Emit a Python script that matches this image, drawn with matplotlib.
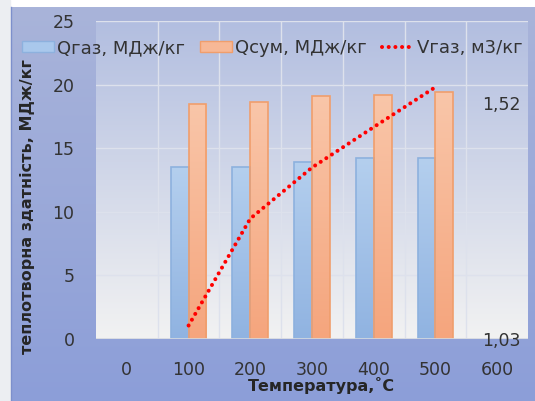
import numpy as np
import matplotlib
matplotlib.use("Agg")
import matplotlib.pyplot as plt
from matplotlib.colors import LinearSegmentedColormap
from matplotlib.lines import Line2D
from matplotlib.patches import Patch, Rectangle

plt.rcParams['font.family'] = ['DejaVu Sans']

temps = ['0', '100', '200', '300', '400', '500', '600']
q_gas = [np.nan, 13.5, 13.5, 13.9, 14.2, 14.2, np.nan]
q_sum = [np.nan, 18.5, 18.6, 19.1, 19.2, 19.4, np.nan]
v_gas = [np.nan, 1.058, 1.28, 1.386, 1.47, 1.553, np.nan]

W, H = 535, 401
fig = plt.figure(figsize=(W / 100, H / 100), dpi=100, facecolor='white')

# chart frame background
bg = fig.add_axes([0, 0, 1, 1], zorder=-10)
bg.axis('off')
bg.add_patch(Rectangle((0, 0), 10, H, color='#eceef2'))
frame_cmap = LinearSegmentedColormap.from_list('frame', ['#a9b4da', '#8c9ed8'])
bg.imshow(np.linspace(0, 1, 256).reshape(-1, 1), cmap=frame_cmap, aspect='auto',
          extent=[10, W, H, 7])
bg.plot([10.5, 10.5], [7, H], color='#7d90cc', lw=1)
bg.set_xlim(0, W)
bg.set_ylim(H, 0)

ax = fig.add_axes([96 / W, 1 - 339 / H, (528 - 96) / W, (339 - 21) / H])
ax.set_facecolor('none')
plot_cmap = LinearSegmentedColormap.from_list('plot', ['#b2bee0', '#f2f2f2'])
ax.imshow(np.linspace(0, 1, 256).reshape(-1, 1), cmap=plot_cmap, aspect='auto',
          extent=[0, 1, 0, 1], transform=ax.transAxes, zorder=0)

x = np.arange(len(temps))
bw = 0.29
blue_cmap = LinearSegmentedColormap.from_list('b', ['#b4cfee', '#90b3e1'])
orange_cmap = LinearSegmentedColormap.from_list('o', ['#f9c6a9', '#f5a57d'])


def gradient_bars(xs, vals, cmap, edge):
    bars = ax.bar(xs, vals, width=bw, facecolor='none', edgecolor=edge,
                  linewidth=1.2, zorder=3)
    for b in bars:
        h = b.get_height()
        if np.isnan(h):
            continue
        x0 = b.get_x()
        im = ax.imshow(np.linspace(0, 1, 128).reshape(-1, 1), cmap=cmap,
                       aspect='auto', extent=[x0, x0 + bw, 0, h], zorder=2)
        im.set_clip_path(b)


gradient_bars(x - bw / 2, q_gas, blue_cmap, '#8db1de')
gradient_bars(x + bw / 2, q_sum, orange_cmap, '#f09e6c')

ax.set_xlim(-0.5, 6.5)
ax.set_ylim(0, 25)
ax.set_xticks(x)
ax.set_xticklabels(temps)
ax.set_yticks([0, 5, 10, 15, 20, 25])
ax.set_xticks(np.arange(0.5, 6.5, 1), minor=True)
ax.grid(True, which='major', axis='y', color='#dde1ec', lw=1, zorder=1)
ax.grid(True, which='minor', axis='x', color='#dde1ec', lw=1, zorder=1)
ax.tick_params(axis='both', which='both', length=0, labelsize=12.5,
               labelcolor='#333333')
ax.tick_params(axis='x', pad=15.5)
ax.tick_params(axis='y', pad=15.5)
for s in ax.spines.values():
    s.set_visible(False)
ax.axhline(0, color='#d6d9e0', lw=1.2, zorder=4)

ax2 = ax.twinx()
ax2.plot(x, v_gas, color='#ff0000', lw=2.9, linestyle=(0, (0.01, 1.65)),
         dash_capstyle='round', zorder=5)
ax2.set_ylim(1.03, 1.03 + 0.49 * 318 / 236)
ax2.set_yticks([1.03, 1.52])
ax2.set_yticklabels(['1,03', '1,52'])
ax2.tick_params(axis='y', length=0, pad=-5, labelsize=12.5, labelcolor='#333333')
for lbl in ax2.get_yticklabels():
    lbl.set_horizontalalignment('right')
for s in ax2.spines.values():
    s.set_visible(False)

handles = [
    Patch(facecolor='#a9c8ec', edgecolor='#8db1de'),
    Patch(facecolor='#f7b896', edgecolor='#f09e6c'),
    Line2D([0], [0], color='#ff0000', lw=2.9, linestyle=(0, (0.01, 1.65)),
           dash_capstyle='round'),
]
fig.legend(handles, ['Qгаз, МДж/кг', 'Qсум, МДж/кг', 'Vгаз, м3/кг'],
           loc='center', bbox_to_anchor=(272 / W, 1 - 48 / H), ncol=3,
           frameon=False, fontsize=13, labelcolor='#333333',
           handlelength=1.77, handleheight=0.6, handletextpad=0.17,
           columnspacing=0.83, borderpad=0)

fig.text(28 / W, 1 - 207 / H, 'теплотворна здатність, МДж/кг', rotation=90,
         ha='center', va='center', fontsize=11.5, fontweight='bold',
         color='#262626')
fig.text(321 / W, 1 - 386 / H, 'Температура,˚С', ha='center', va='center',
         fontsize=11.5, fontweight='bold', color='#262626')

fig.savefig('out.png', dpi=100)
